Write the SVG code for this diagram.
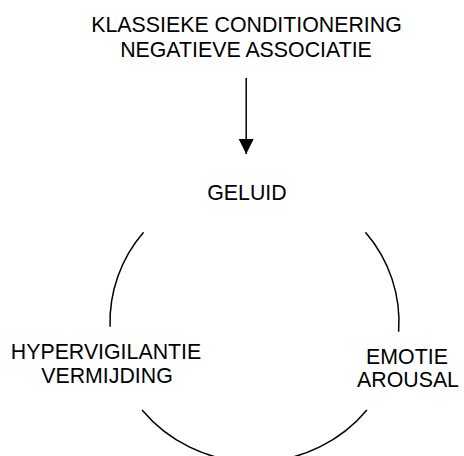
<svg xmlns="http://www.w3.org/2000/svg" width="464" height="456" viewBox="0 0 464 456">
  <style>
    .lbl { font-family: "Liberation Sans", Arial, sans-serif; font-size: 21.33px; fill: #000; text-anchor: middle; }
    .edge { fill: none; stroke: #000; stroke-width: 1.5; }
  </style>
  <defs>
    <marker id="arrow" viewBox="0 0 16 16" refX="15" refY="8" markerWidth="16" markerHeight="16" markerUnits="userSpaceOnUse" orient="auto">
      <path d="M0,0.5 L15,8 L0,15.5 Z" fill="#000"/>
    </marker>
  </defs>
  <rect width="464" height="456" fill="#fff"/>
  <g id="node-conditionering">
    <text class="lbl" x="246.5" y="32">KLASSIEKE CONDITIONERING</text>
    <text class="lbl" x="246" y="57">NEGATIEVE ASSOCIATIE</text>
  </g>
  <g id="node-geluid">
    <text class="lbl" x="247" y="200">GELUID</text>
  </g>
  <g id="node-hypervigilantie">
    <text class="lbl" x="106" y="359">HYPERVIGILANTIE</text>
    <text class="lbl" x="107" y="383">VERMIJDING</text>
  </g>
  <g id="node-emotie">
    <text class="lbl" x="407" y="363.5">EMOTIE</text>
    <text class="lbl" x="408" y="387">AROUSAL</text>
  </g>
  <g id="connectors">
    <line class="edge" x1="246.2" y1="78" x2="246.2" y2="154" marker-end="url(#arrow)"/>
    <path class="edge" d="M143.55,232.3 A144.5,140 0 0 0 110.08,326.7"/>
    <path class="edge" d="M365.45,232.3 A144.5,140 0 0 1 398.65,331.7"/>
    <path class="edge" d="M142.1,410 A144.5,140 0 0 0 366.9,410"/>
  </g>
</svg>
